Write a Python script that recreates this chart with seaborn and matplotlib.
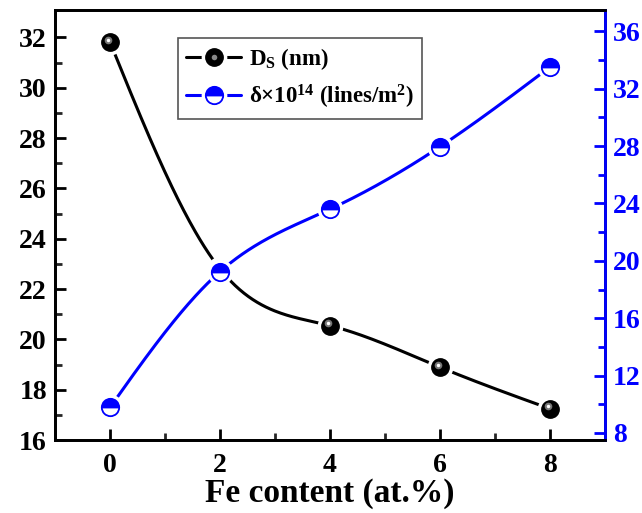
import numpy as np
import seaborn as sns
import matplotlib.pyplot as plt
import matplotlib.transforms as mtransforms
from matplotlib.lines import Line2D
from matplotlib.legend_handler import HandlerTuple

fe_content = [0, 2, 4, 6, 8]
crystallite_size = [31.8, 22.8, 20.55, 18.9, 17.25]
dislocation_density = [9.8, 19.25, 23.6, 27.95, 33.5]

x_ticks = [0, 2, 4, 6, 8]
left_ticks = [16, 18, 20, 22, 24, 26, 28, 30, 32]
right_ticks = [8, 12, 16, 20, 24, 28, 32, 36]


def natural_spline(x, y, n=300):
    # smooth connecting curve, like Origin's spline line
    x = np.asarray(x, float)
    y = np.asarray(y, float)
    h = np.diff(x)
    m = len(x)
    A = np.zeros((m, m))
    b = np.zeros(m)
    A[0, 0] = A[-1, -1] = 1
    for i in range(1, m - 1):
        A[i, i - 1] = h[i - 1]
        A[i, i] = 2 * (h[i - 1] + h[i])
        A[i, i + 1] = h[i]
        b[i] = 6 * ((y[i + 1] - y[i]) / h[i] - (y[i] - y[i - 1]) / h[i - 1])
    M = np.linalg.solve(A, b)
    xs = np.linspace(x[0], x[-1], n)
    idx = np.clip(np.searchsorted(x, xs) - 1, 0, m - 2)
    x0, x1 = x[idx], x[idx + 1]
    hh = x1 - x0
    t0, t1 = x1 - xs, xs - x0
    ys = (M[idx] * t0 ** 3 + M[idx + 1] * t1 ** 3) / (6 * hh) \
        + (y[idx] / hh - M[idx] * hh / 6) * t0 \
        + (y[idx + 1] / hh - M[idx + 1] * hh / 6) * t1
    return xs, ys


sns.set_theme(style='ticks')
plt.rcParams['font.family'] = ['Liberation Serif', 'DejaVu Serif']
plt.rcParams['font.weight'] = 'bold'
plt.rcParams['text.color'] = 'black'
plt.rcParams['axes.labelcolor'] = 'black'
plt.rcParams['mathtext.fontset'] = 'custom'
plt.rcParams['mathtext.rm'] = 'Liberation Serif:bold'
plt.rcParams['mathtext.it'] = 'Liberation Serif:bold'
plt.rcParams['mathtext.bf'] = 'Liberation Serif:bold'

fig = plt.figure(figsize=(6.42, 5.13), dpi=100)
ax = fig.add_axes([0.086, 0.142, 0.856, 0.839])
ax2 = ax.twinx()

blue = '#0000ff'
lw = 2.2
ms = 12.5

# curves
xs, ys = natural_spline(fe_content, crystallite_size)
sns.lineplot(x=xs, y=ys, ax=ax, color='black', lw=lw, sort=False, zorder=2)
xs2, ys2 = natural_spline(fe_content, dislocation_density)
sns.lineplot(x=xs2, y=ys2, ax=ax2, color=blue, lw=lw, sort=False, zorder=2)

# white halo gives the gap between line and marker
ax.plot(fe_content, crystallite_size, 'o', ms=ms + 6, color='white', mec='none', zorder=3)
ax.plot(fe_content, crystallite_size, 'o', ms=ms, color='black', mec='black', zorder=4)
hl = mtransforms.offset_copy(ax.transData, fig=fig, x=-1.6, y=1.8, units='points')
ax.plot(fe_content, crystallite_size, 'o', ms=5.5, color='#777777', mec='none', zorder=5, transform=hl)
ax.plot(fe_content, crystallite_size, 'o', ms=2.5, color='white', mec='none', zorder=6, transform=hl)

ax2.plot(fe_content, dislocation_density, 'o', ms=ms + 6, color='white', mec='none', zorder=3)
ax2.plot(fe_content, dislocation_density, 'o', ms=ms, color=blue, mec=blue, mew=1.3,
         fillstyle='top', markerfacecoloralt='white', zorder=4)

# axes
ax.set_xlim(-1, 9)
ax.set_ylim(16, 33.1)
ax2.set_ylim(7.5, 37.5)
ax.set_xticks(x_ticks)
ax.set_xticks([1, 3, 5, 7], minor=True)
ax.set_yticks(left_ticks)
ax.set_yticks(np.arange(17, 33, 2), minor=True)
ax2.set_yticks(right_ticks)
ax2.set_yticks(np.arange(10, 37, 4), minor=True)

for a in (ax, ax2):
    for s in a.spines.values():
        s.set_linewidth(2)
        s.set_color('black')
ax2.spines['right'].set_color(blue)

ax.tick_params(axis='both', which='major', direction='in', length=8, width=2,
               labelsize=20, colors='black', top=False, right=False, pad=6)
ax.tick_params(axis='x', which='major', pad=9)
ax.tick_params(axis='both', which='minor', direction='in', length=5, width=2,
               top=False, right=False)
ax2.tick_params(axis='y', which='major', direction='in', length=8, width=2,
                labelsize=20, colors=blue, pad=6)
ax2.tick_params(axis='y', which='minor', direction='in', length=5, width=2, colors=blue)
for lab in ax.get_xticklabels() + ax.get_yticklabels() + ax2.get_yticklabels():
    lab.set_fontweight('bold')

ax.set_xlabel('Fe content (at.%)', fontsize=24, fontweight='bold', color='black', labelpad=0)

# legend
h_black = (Line2D([], [], color='black', lw=lw),
           Line2D([], [], ls='none', marker='o', ms=ms + 6, color='white', mec='none'),
           Line2D([], [], ls='none', marker='o', ms=ms, color='black'),
           Line2D([], [], ls='none', marker='o', ms=4, color='#888888', mec='none'))
h_blue = (Line2D([], [], color=blue, lw=lw),
          Line2D([], [], ls='none', marker='o', ms=ms + 6, color='white', mec='none'),
          Line2D([], [], ls='none', marker='o', ms=ms, color=blue, mec=blue, mew=1.3,
                 fillstyle='top', markerfacecoloralt='white'))
leg = ax2.legend([h_black, h_blue],
                 [r'D$_\mathrm{S}$ (nm)', r'$\delta$$\times$10$^{14}$ (lines/m$^{2}$)'],
                 handler_map={tuple: HandlerTuple(ndivide=1, pad=0)},
                 loc='upper left', bbox_to_anchor=(0.224, 0.934), borderaxespad=0,
                 frameon=True, fancybox=False, edgecolor='#555555', framealpha=1,
                 handlelength=2.4, handletextpad=0.35, borderpad=0.35, labelspacing=0.45,
                 prop={'weight': 'bold', 'size': 16.5})
leg.get_frame().set_linewidth(1.2)

fig.savefig('out.png', dpi=100)
